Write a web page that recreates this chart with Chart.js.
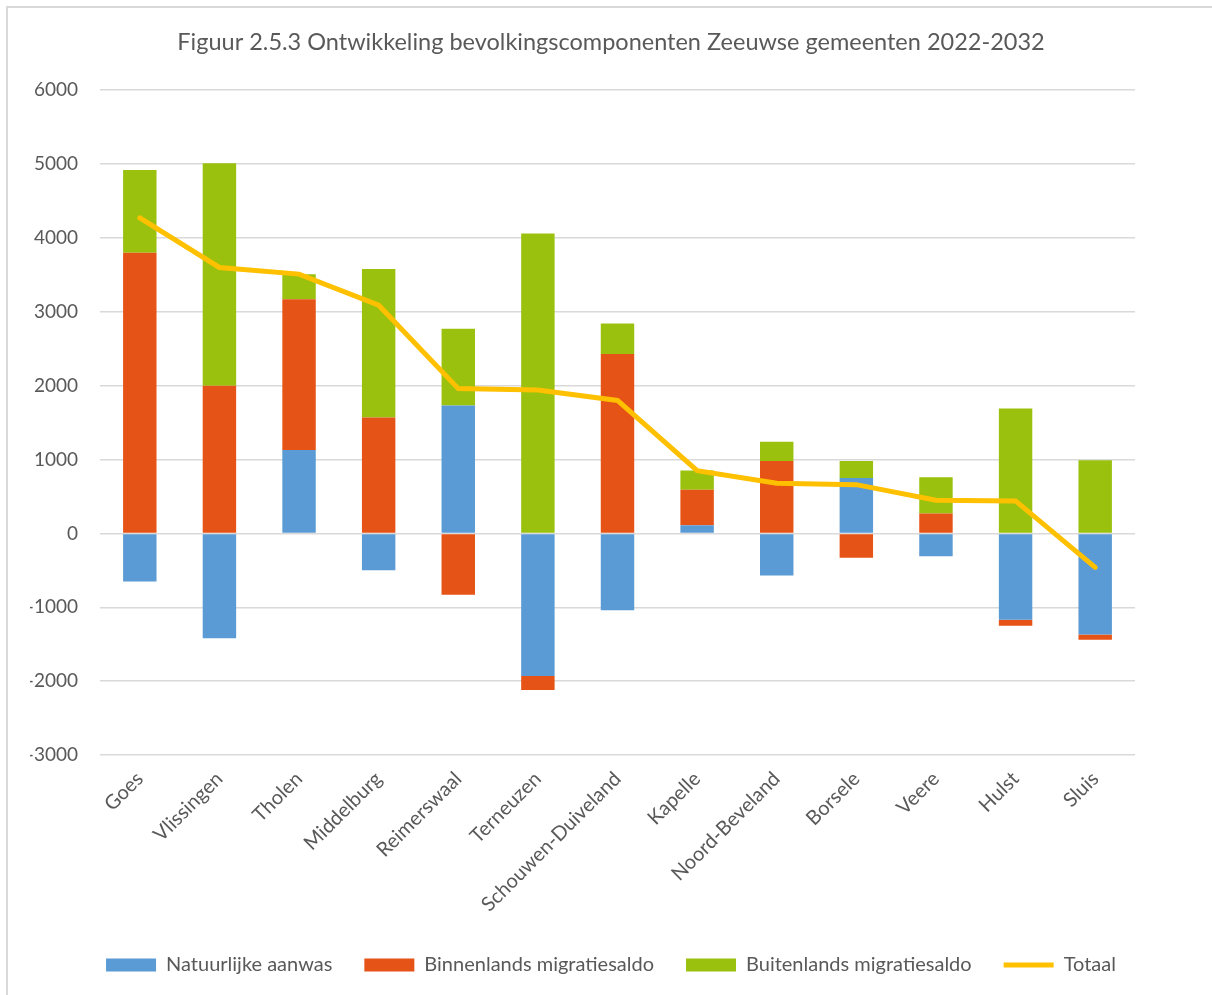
<!DOCTYPE html>
<html>
<head>
<meta charset="utf-8">
<script src="https://cdn.jsdelivr.net/npm/chart.js@4/dist/chart.umd.min.js"></script>
<style>
  html, body { margin: 0; padding: 0; background: #fff; }
  #wrap { position: relative; width: 1212px; height: 995px; overflow: hidden; }
  #frame { position: absolute; left: 6px; top: 6px; width: 1300px; height: 1100px; border: 2px solid #d9d9d9; }
  canvas { position: absolute; left: 0; top: 0; }
</style>
</head>
<body>
<div id="wrap">
  <div id="frame"></div>
  <canvas id="myChart" width="1212" height="995"></canvas>
</div>
<script>
// gemeenten
const gemeenten = ['Goes','Vlissingen','Tholen','Middelburg','Reimerswaal','Terneuzen','Schouwen-Duiveland','Kapelle','Noord-Beveland','Borsele','Veere','Hulst','Sluis'];

// componenten
const natuurlijk   = [-650, -1420, 1130, -500, 1730, -1930, -1040, 110, -570, 750, -310, -1170, -1370];
const binnenlands  = [3800, 2000, 2040, 1570, -830, -190, 2430, 480, 980, -330, 270, -80, -70];
const buitenlands  = [1120, 3010, 340, 2010, 1040, 4060, 410, 260, 260, 230, 490, 1690, 990];
const totaal       = [4270, 3600, 3510, 3090, 1960, 1940, 1800, 850, 680, 660, 450, 440, -460];

const yTicks = { min: -3000, max: 6000, stap: 1000 };

const FONT = 'Lato, "Open Sans", sans-serif';
const GRIJS = '#595959';

const ctx = document.getElementById('myChart').getContext('2d');

const chart = new Chart(ctx, {
  data: {
    labels: gemeenten,
    datasets: [
      { type: 'bar', label: 'Natuurlijke aanwas', data: natuurlijk, backgroundColor: '#5B9BD5', stack: 'comp', order: 1, pointStyle: 'rect' },
      { type: 'bar', label: 'Binnenlands migratiesaldo', data: binnenlands, backgroundColor: '#E65316', stack: 'comp', order: 1, pointStyle: 'rect' },
      { type: 'bar', label: 'Buitenlands migratiesaldo', data: buitenlands, backgroundColor: '#9BC10F', stack: 'comp', order: 1, pointStyle: 'rect' },
      { type: 'line', label: 'Totaal', data: totaal, borderColor: '#FFC000', backgroundColor: '#FFC000', borderWidth: 5,
        pointRadius: 0, tension: 0, stack: 'tot', order: 0, pointStyle: 'line', borderCapStyle: 'round' }
    ]
  },
  options: {
    responsive: false,
    animation: false,
    layout: { padding: { left: 30, right: 20, top: 0, bottom: 10 } },
    datasets: { bar: { barPercentage: 0.42, categoryPercentage: 1 } },
    plugins: {
      title: {
        display: true,
        text: 'Figuur 2.5.3 Ontwikkeling bevolkingscomponenten Zeeuwse gemeenten 2022-2032',
        color: GRIJS,
        font: { family: FONT, size: 23.5, weight: 'normal' },
        padding: { top: 28, bottom: 34 }
      },
      legend: {
        position: 'bottom',
        labels: {
          usePointStyle: true,
          pointStyleWidth: 50,
          boxHeight: 13,
          padding: 32,
          color: GRIJS,
          font: { family: FONT, size: 20 },
          sort: (a, b) => a.datasetIndex - b.datasetIndex
        }
      },
      tooltip: { enabled: false }
    },
    scales: {
      x: {
        stacked: true,
        afterFit: s => { s.height = 168; },
        grid: { display: false },
        border: { display: false },
        ticks: { color: GRIJS, font: { family: FONT, size: 20 }, minRotation: 45, maxRotation: 45, padding: 4 }
      },
      y: {
        stacked: true,
        min: yTicks.min,
        max: yTicks.max,
        afterFit: s => { s.width = 70; },
        grid: { color: '#d9d9d9', lineWidth: 1.5, drawTicks: false },
        border: { display: false },
        ticks: { stepSize: yTicks.stap, color: GRIJS, font: { family: FONT, size: 19 }, padding: 22,
                 callback: v => String(v) }
      },
      rechts: {
        position: 'right',
        afterFit: s => { s.width = 57; },
        grid: { display: false },
        border: { display: false },
        ticks: { display: false }
      }
    }
  }
});
</script>
</body>
</html>
